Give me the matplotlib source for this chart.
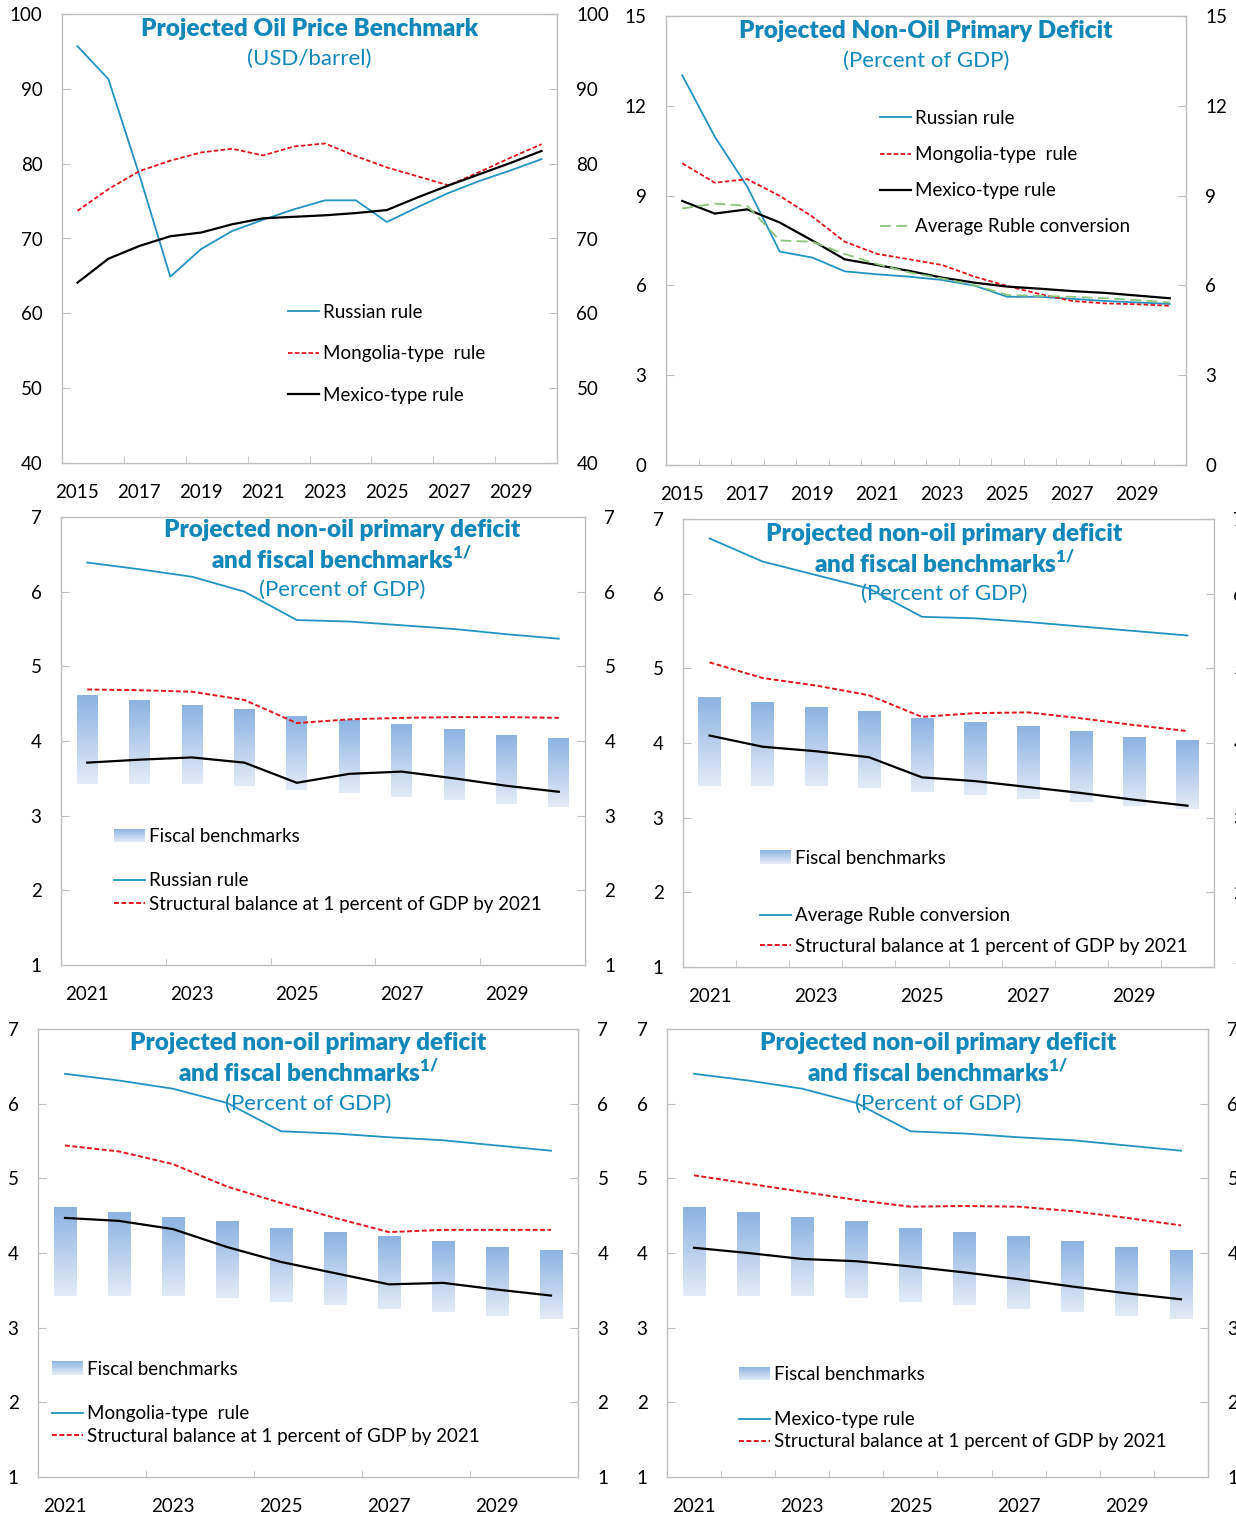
"""Oil price benchmark and non-oil primary deficit panels."""
import matplotlib
matplotlib.use("Agg")
import matplotlib.pyplot as plt
import numpy as np
from matplotlib.colors import LinearSegmentedColormap
from matplotlib.legend_handler import HandlerBase
from matplotlib.patches import Rectangle

plt.rcParams.update({
    "font.family": ["Lato", "DejaVu Sans"],
    "font.size": 13,
    "mathtext.fontset": "custom",
    "mathtext.rm": "Lato",
    "mathtext.bf": "Lato:heavy",
})

TITLE_BLUE = "#1287BA"
LINE_BLUE = "#2492C2"
RED = "#E5141B"
GREEN = "#8CC47C"
GRAY = "#BFBFBF"
bar_cmap = LinearSegmentedColormap.from_list("bench", ["#E3EBF7", "#8DB3E2"])

# ---- data -------------------------------------------------------------
years_long = [str(y) for y in range(2015, 2031)]
years_short = [str(y) for y in range(2021, 2031)]

oil_russian = [95.7, 91.3, 78.5, 64.9, 68.6, 71.0, 72.5, 73.9, 75.1, 75.1, 72.2, 74.2, 76.1, 77.7, 79.1, 80.6]
oil_mongolia = [73.7, 76.6, 79.0, 80.4, 81.5, 82.0, 81.1, 82.3, 82.7, 81.0, 79.5, 78.3, 77.1, 78.9, 80.8, 82.6]
oil_mexico = [64.1, 67.3, 69.0, 70.3, 70.8, 71.9, 72.7, 72.9, 73.1, 73.4, 73.8, 75.5, 77.1, 78.6, 80.1, 81.7]

def_russian = [13.02, 10.97, 9.3, 7.13, 6.93, 6.47, 6.37, 6.29, 6.18, 5.99, 5.62, 5.62, 5.55, 5.48, 5.43, 5.38]
def_mongolia = [10.08, 9.43, 9.55, 8.99, 8.3, 7.46, 7.05, 6.87, 6.68, 6.29, 5.98, 5.71, 5.48, 5.4, 5.37, 5.32]
def_mexico = [8.82, 8.4, 8.54, 8.1, 7.5, 6.87, 6.68, 6.48, 6.26, 6.09, 5.96, 5.89, 5.81, 5.75, 5.66, 5.57]
def_ruble = [8.57, 8.73, 8.66, 7.5, 7.46, 7.05, 6.71, 6.43, 6.23, 6.01, 5.68, 5.65, 5.62, 5.57, 5.51, 5.43]

bench_high = [4.6, 4.54, 4.47, 4.42, 4.34, 4.28, 4.22, 4.15, 4.08, 4.03]
bench_low = [3.42, 3.42, 3.42, 3.40, 3.35, 3.31, 3.25, 3.21, 3.16, 3.11]

rule_russian = [6.39, 6.30, 6.2, 6.0, 5.62, 5.6, 5.55, 5.5, 5.43, 5.37]
sb_russian = [4.69, 4.68, 4.66, 4.55, 4.24, 4.29, 4.31, 4.32, 4.32, 4.31]
alt_russian = [3.71, 3.75, 3.78, 3.71, 3.44, 3.56, 3.59, 3.5, 3.4, 3.32]

rule_ruble = [6.74, 6.43, 6.25, 6.07, 5.69, 5.67, 5.62, 5.56, 5.5, 5.44]
sb_ruble = [5.08, 4.87, 4.77, 4.64, 4.35, 4.40, 4.41, 4.33, 4.24, 4.16]
alt_ruble = [4.1, 3.95, 3.89, 3.81, 3.54, 3.49, 3.41, 3.33, 3.24, 3.16]

rule_mongolia = [6.4, 6.31, 6.2, 6.01, 5.63, 5.6, 5.55, 5.51, 5.44, 5.37]
sb_mongolia = [5.44, 5.36, 5.19, 4.89, 4.67, 4.47, 4.28, 4.31, 4.31, 4.31]
alt_mongolia = [4.47, 4.43, 4.32, 4.08, 3.88, 3.73, 3.58, 3.6, 3.51, 3.43]

rule_mexico = [6.4, 6.31, 6.2, 6.01, 5.63, 5.6, 5.55, 5.51, 5.44, 5.37]
sb_mexico = [5.04, 4.93, 4.82, 4.71, 4.62, 4.63, 4.62, 4.56, 4.47, 4.37]
alt_mexico = [4.07, 4.0, 3.92, 3.89, 3.82, 3.74, 3.65, 3.55, 3.46, 3.38]

SB_LABEL = "Structural balance at 1 percent of GDP by 2021"

W, H = 1236, 1516
fig = plt.figure(figsize=(W / 100, H / 100), dpi=100)


def add_panel(x0, y0, x1, y1):
    return fig.add_axes([x0 / W, 1 - y1 / H, (x1 - x0) / W, (y1 - y0) / H])


class GradientHandler(HandlerBase):
    def create_artists(self, legend, orig, xd, yd, width, height, fontsize, trans):
        n = 16
        arts = []
        for k in range(n):
            y = -yd + height * (1 - (k + 1) / n)
            arts.append(Rectangle((-xd, y), width, height / n + 0.3,
                                  facecolor=bar_cmap(1 - (k + 0.5) / n),
                                  edgecolor="none", transform=trans))
        return arts


def style(ax, labels, ylim, yticks, tick_step):
    n = len(labels)
    ax.set_xlim(-0.5, n - 0.5)
    ax.set_ylim(*ylim)
    ax.set_yticks(yticks)
    ax.set_xticks(range(0, n, 2))
    ax.set_xticklabels(labels[::2])
    start = 1.5 if tick_step == 2 else 0.5
    ax.set_xticks(np.arange(start, n - 1, tick_step), minor=True)
    ax.tick_params(axis="both", which="major", labelsize=13.5)
    ax.tick_params(axis="x", which="major", length=0, pad=15)
    ax.tick_params(axis="x", which="minor", direction="in", length=5, color=GRAY)
    ax.tick_params(axis="y", direction="in", length=6, color=GRAY, left=True,
                   right=True, labelright=True, pad=14)
    for s in ax.spines.values():
        s.set_color(GRAY)
        s.set_linewidth(1.0)


def titles(ax, xc, lines, ys):
    for i, (txt, y) in enumerate(zip(lines, ys)):
        bold = i < len(lines) - 1
        ax.text(xc, y, txt, transform=ax.transAxes, ha="center", va="center",
                color=TITLE_BLUE, fontsize=17.5 if bold else 16,
                fontweight="heavy" if bold else "normal", zorder=1)


def line_legend(ax, x, y, spacing):
    leg = ax.legend(loc="center left", bbox_to_anchor=(x, y), frameon=False,
                    borderpad=0, borderaxespad=0, handlelength=1.65,
                    handletextpad=0.2, labelspacing=spacing, fontsize=13.5)
    return leg


# ---- panel 1: oil price ------------------------------------------------
ax = add_panel(62, 14, 557, 463)
xs = range(len(years_long))
ax.plot(xs, oil_russian, color=LINE_BLUE, lw=1.3, label="Russian rule", zorder=3)
ax.plot(xs, oil_mongolia, color=RED, lw=1.3, dashes=(2.5, 1.3), label="Mongolia-type  rule", zorder=3)
ax.plot(xs, oil_mexico, color="black", lw=1.6, label="Mexico-type rule", zorder=3)
style(ax, years_long, (40, 100), range(40, 101, 10), 2)
titles(ax, 0.5, ["Projected Oil Price Benchmark", "(USD/barrel)"], [0.967, 0.90])
line_legend(ax, 0.457, 0.243, 1.3)

# ---- panel 2: non-oil primary deficit -----------------------------------
ax = add_panel(666, 16, 1186, 465)
ax.plot(xs, def_russian, color=LINE_BLUE, lw=1.3, label="Russian rule", zorder=3)
ax.plot(xs, def_mongolia, color=RED, lw=1.3, dashes=(2.5, 1.3), label="Mongolia-type  rule", zorder=3)
ax.plot(xs, def_mexico, color="black", lw=1.6, label="Mexico-type rule", zorder=3)
ax.plot(xs, def_ruble, color=GREEN, lw=1.3, dashes=(6, 3), label="Average Ruble conversion", zorder=3)
style(ax, years_long, (0, 15), range(0, 16, 3), 1)
titles(ax, 0.5, ["Projected Non-Oil Primary Deficit", "(Percent of GDP)"], [0.967, 0.90])
line_legend(ax, 0.412, 0.651, 1.02)


# ---- panels 3-6: fiscal benchmarks -------------------------------------
def bench_panel(rect, rule, rule_label, sb, alt, bar_w, tick_step, title_x, title_ys,
                bench_pos, lines_pos, spacing):
    ax = add_panel(*rect)
    xs = np.arange(len(years_short))
    for x, lo, hi in zip(xs, bench_low, bench_high):
        ax.imshow(np.linspace(0, 1, 100).reshape(-1, 1), cmap=bar_cmap, origin="lower",
                  aspect="auto", extent=[x - bar_w / 2, x + bar_w / 2, lo, hi], zorder=2)
    ax.plot(xs, rule, color=LINE_BLUE, lw=1.3, label=rule_label, zorder=3)
    ax.plot(xs, sb, color=RED, lw=1.4, dashes=(2.5, 1.3), label=SB_LABEL, zorder=3)
    ax.plot(xs, alt, color="black", lw=1.6, zorder=3)
    style(ax, years_short, (1, 7), range(1, 8), tick_step)
    titles(ax, title_x, ["Projected non-oil primary deficit",
                         r"and fiscal benchmarks$^{\mathbf{1/}}$", "(Percent of GDP)"], title_ys)
    bench_leg = ax.legend([Rectangle((0, 0), 1, 1)], ["Fiscal benchmarks"],
                          handler_map={Rectangle: GradientHandler()},
                          loc="center left", bbox_to_anchor=bench_pos, frameon=False,
                          borderpad=0, borderaxespad=0, handlelength=1.65,
                          handletextpad=0.2, fontsize=13.5)
    ax.add_artist(bench_leg)
    line_legend(ax, lines_pos[0], lines_pos[1], spacing)
    return ax


bench_panel((61, 517, 585, 965), rule_russian, "Russian rule", sb_russian, alt_russian,
            0.40, 2, 0.536, [0.971, 0.904, 0.837], (0.101, 0.286), (0.101, 0.162), 0.33)
bench_panel((683, 519, 1214, 967), rule_ruble, "Average Ruble conversion", sb_ruble, alt_ruble,
            0.42, 1, 0.492, [0.967, 0.900, 0.833], (0.145, 0.243), (0.145, 0.080), 0.72)
bench_panel((38, 1029, 578, 1477), rule_mongolia, "Mongolia-type  rule", sb_mongolia, alt_mongolia,
            0.42, 2, 0.501, [0.969, 0.902, 0.833], (0.026, 0.241), (0.026, 0.116), 0.28)
bench_panel((667, 1029, 1208, 1477), rule_mexico, "Mexico-type rule", sb_mexico, alt_mexico,
            0.42, 1, 0.501, [0.969, 0.902, 0.833], (0.133, 0.228), (0.133, 0.103), 0.28)

fig.savefig("out.png", dpi=100)
